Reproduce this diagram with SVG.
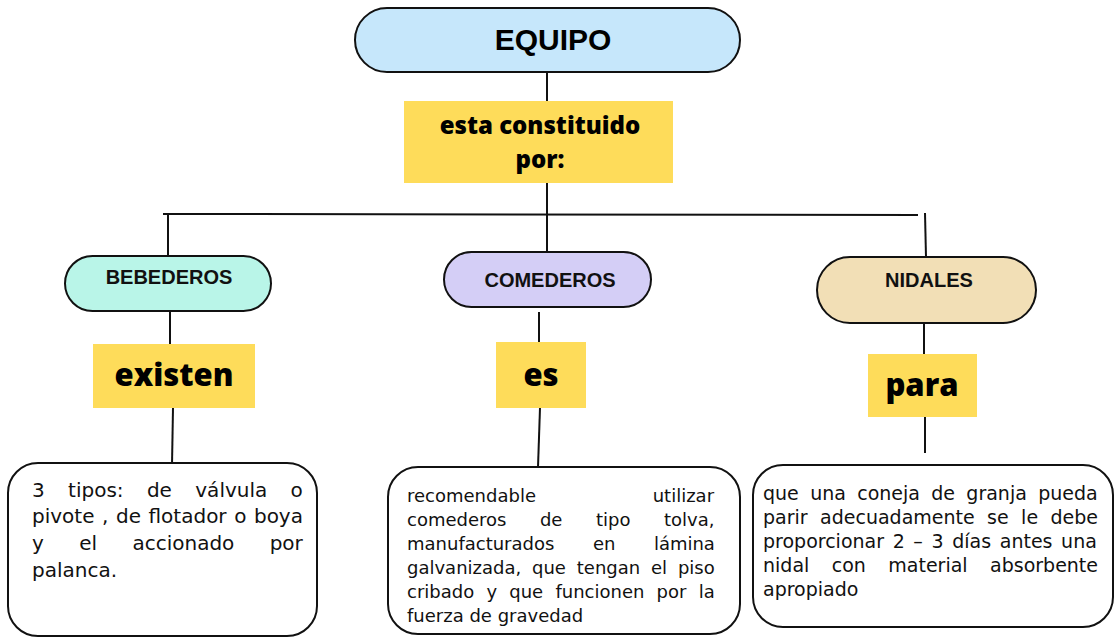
<svg xmlns="http://www.w3.org/2000/svg" width="1115" height="637" viewBox="0 0 1115 637">
<style>
.pill{stroke:#111;stroke-width:2}
.ybox{fill:#fedc5a}
.tbox{fill:#fff;stroke:#111;stroke-width:2}
.conn{stroke:#111;stroke-width:2;fill:none}
.h1{font-family:"Liberation Sans",Arial,sans-serif;font-weight:bold;font-size:30px;fill:#000;text-anchor:middle}
.h2{font-family:"Liberation Sans",Arial,sans-serif;font-weight:bold;font-size:20px;fill:#111;text-anchor:middle}
.yl{font-family:"Open Sans",sans-serif;font-weight:800;fill:#000;text-anchor:middle}
.body{font-family:"DejaVu Sans",sans-serif;fill:#111}
</style>
<rect width="1115" height="637" fill="#fff"/>
<g id="connectors">
<line class="conn" x1="547" y1="72" x2="547" y2="101"/>
<line class="conn" x1="547" y1="183" x2="547" y2="252"/>
<line class="conn" x1="163" y1="214" x2="918" y2="215"/>
<line class="conn" x1="168" y1="214" x2="168" y2="256"/>
<line class="conn" x1="925" y1="213" x2="926" y2="257"/>
<line class="conn" x1="170" y1="311" x2="170" y2="344"/>
<line class="conn" x1="173" y1="408" x2="172" y2="465"/>
<line class="conn" x1="539" y1="312" x2="539" y2="342"/>
<line class="conn" x1="540" y1="408" x2="538" y2="467"/>
<line class="conn" x1="924" y1="317" x2="924" y2="354"/>
<line class="conn" x1="925" y1="417" x2="925" y2="453"/>
</g>
<g id="equipo">
<rect class="pill" x="355" y="8" width="385" height="64" rx="32" fill="#c6e7fb"/>
<text class="h1" x="553" y="50">EQUIPO</text>
</g>
<g id="constituido">
<rect class="ybox" x="404" y="101" width="269" height="82"/>
<text class="yl" x="540" y="134" font-size="24">esta constituido</text>
<text class="yl" x="540" y="168" font-size="24">por:</text>
</g>
<g id="bebederos">
<rect class="pill" x="65" y="256" width="206" height="55" rx="27.5" fill="#b9f5e8"/>
<text class="h2" x="169" y="284">BEBEDEROS</text>
</g>
<g id="comederos">
<rect class="pill" x="444" y="252" width="207" height="55" rx="27.5" fill="#d4cef6"/>
<text class="h2" x="550" y="287" font-size="20.5">COMEDEROS</text>
</g>
<g id="nidales">
<rect class="pill" x="817" y="257" width="219" height="66" rx="33" fill="#f2dfb6"/>
<text class="h2" x="929" y="287">NIDALES</text>
</g>
<g id="existen">
<rect class="ybox" x="93" y="344" width="162" height="64"/>
<text class="yl" x="174" y="386" font-size="31">existen</text>
</g>
<g id="es">
<rect class="ybox" x="496" y="342" width="90" height="66"/>
<text class="yl" x="541" y="386" font-size="31">es</text>
</g>
<g id="para">
<rect class="ybox" x="868" y="354" width="109" height="63"/>
<text class="yl" x="922" y="396" font-size="31">para</text>
</g>
<g id="bebederos-desc">
<rect class="tbox" x="8" y="463" width="309" height="173" rx="30"/>
<g class="body" font-size="20">
<text x="32" y="497" word-spacing="17">3 tipos: de válvula o</text>
<text x="32" y="523" word-spacing="1.2">pivote , de flotador o boya</text>
<text x="32" y="550" word-spacing="29">y el accionado por</text>
<text x="32" y="577">palanca.</text>
</g>
</g>
<g id="comederos-desc">
<rect class="tbox" x="388" y="467" width="352" height="167" rx="30"/>
<g class="body" font-size="18">
<text x="407" y="502" word-spacing="111">recomendable utilizar</text>
<text x="407" y="526" word-spacing="27.8">comederos de tipo tolva,</text>
<text x="407" y="550" word-spacing="32.8">manufacturados en lámina</text>
<text x="407" y="574" word-spacing="5.1">galvanizada, que tengan el piso</text>
<text x="407" y="598" word-spacing="6.5">cribado y que funcionen por la</text>
<text x="407" y="622">fuerza de gravedad</text>
</g>
</g>
<g id="nidales-desc">
<rect class="tbox" x="753" y="465" width="360" height="162" rx="30"/>
<g class="body" font-size="19">
<text x="763" y="500" word-spacing="5.3">que una coneja de granja pueda</text>
<text x="763" y="524" word-spacing="6.4">parir adecuadamente se le debe</text>
<text x="763" y="548" word-spacing="2.6">proporcionar 2 – 3 días antes una</text>
<text x="763" y="572" word-spacing="16.4">nidal con material absorbente</text>
<text x="763" y="596">apropiado</text>
</g>
</g>
</svg>
